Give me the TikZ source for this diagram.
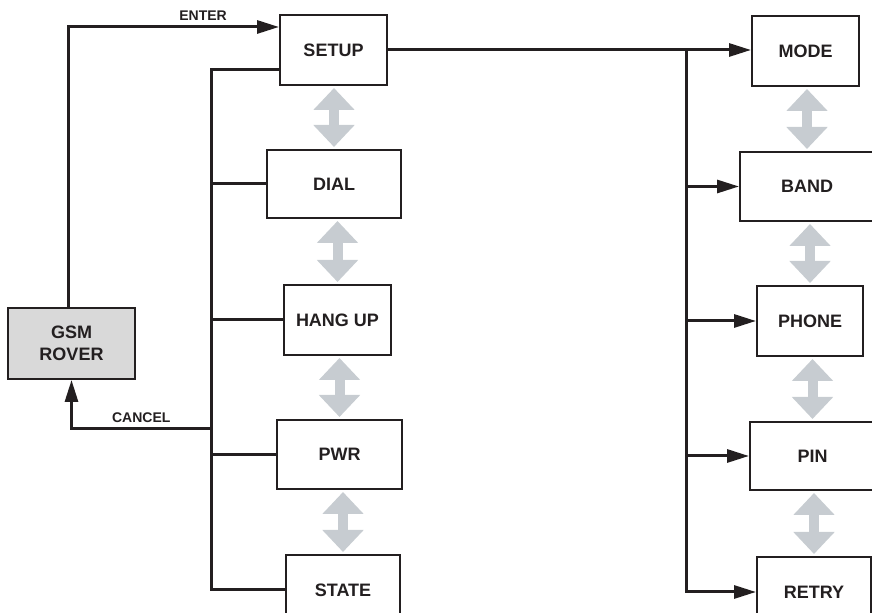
\documentclass[tikz,border=0pt]{standalone}
\usepackage{fontspec}
\setmainfont{Liberation Sans}
\usetikzlibrary{arrows.meta}

\definecolor{ink}{RGB}{35,31,32}
\definecolor{swapgray}{RGB}{199,204,209}
\definecolor{roverfill}{RGB}{217,217,217}

\tikzset{
  menubox/.style={draw=ink,line width=1pt,text=ink,inner sep=0pt,align=center,
    font=\bfseries\fontsize{9}{11}\selectfont},
  wire/.style={draw=ink,line width=1.5pt},
  feed/.style={-{Triangle[length=11pt,width=6.5pt]}},
  swaparrow/.style={draw=swapgray,line width=5pt,shorten <=1pt,shorten >=1pt,
    {Triangle[length=11pt,width=20pt]}-{Triangle[length=11pt,width=20pt]}},
  flowlabel/.style={text=ink,inner sep=2.5pt,font=\bfseries\fontsize{7}{8}\selectfont}
}

\begin{document}
\begin{tikzpicture}[x=0.5pt,y=-0.5pt]
  \useasboundingbox (0,0) rectangle (872,613);

  % Main unit
  \node[menubox,fill=roverfill,minimum width=63.5pt,minimum height=35.5pt] (gsm) at (71.5,343.5) {GSM\\ROVER};

  % Left menu column
  \node[menubox,minimum width=53.5pt,minimum height=35pt] (setup) at (333.5,50) {SETUP};
  \node[menubox,minimum width=67pt,minimum height=34pt] (dial) at (334,184) {DIAL};
  \node[menubox,minimum width=53.5pt,minimum height=35pt] (hangup) at (337.5,320) {HANG UP};
  \node[menubox,minimum width=62.5pt,minimum height=34.5pt] (pwr) at (339.5,454.5) {PWR};
  \node[menubox,minimum width=57pt,minimum height=35pt] (state) at (343,590) {STATE};

  % Right menu column
  \node[menubox,minimum width=53.5pt,minimum height=35pt] (mode) at (805.5,51) {MODE};
  \node[menubox,minimum width=67pt,minimum height=34.5pt] (band) at (807,186.5) {BAND};
  \node[menubox,minimum width=53pt,minimum height=35pt] (phone) at (810,321) {PHONE};
  \node[menubox,minimum width=62.5pt,minimum height=34pt] (pin) at (812.5,456) {PIN};
  \node[menubox,minimum width=57pt,minimum height=35pt] (retry) at (814,592) {RETRY};

  % Bus corners
  \coordinate (lbus) at (211,70);
  \coordinate (cancel) at (211,429);
  \coordinate (rbus) at (686,50);

  % Enter / cancel
  \draw[wire,feed] ([xshift=-1.75pt]gsm.north) |- node[flowlabel,above,pos=0.82] {ENTER} ([yshift=11.5pt]setup.west);
  \draw[wire,feed] (cancel) -| node[flowlabel,above,pos=0.25] {CANCEL} (gsm.south);

  % Left bus
  \draw[wire] (lbus -| setup.west) -- (lbus) |- (state.west);
  \foreach \n in {dial,hangup,pwr}
    \draw[wire] (lbus |- \n.west) -- (\n.west);

  % Right bus
  \draw[wire,feed] (setup.east) -- (setup.east -| mode.west);
  \draw[wire,feed] (rbus) |- (retry.west);
  \foreach \n in {band,phone,pin}
    \draw[wire,feed] (rbus |- \n.west) -- (\n.west);

  % Up/down between menu items
  \foreach \a/\b in {setup/dial,dial/hangup,hangup/pwr,pwr/state,
                     mode/band,band/phone,phone/pin,pin/retry}
    \draw[swaparrow] (\a.south -| \b.north) -- (\b.north);

\end{tikzpicture}
\end{document}
